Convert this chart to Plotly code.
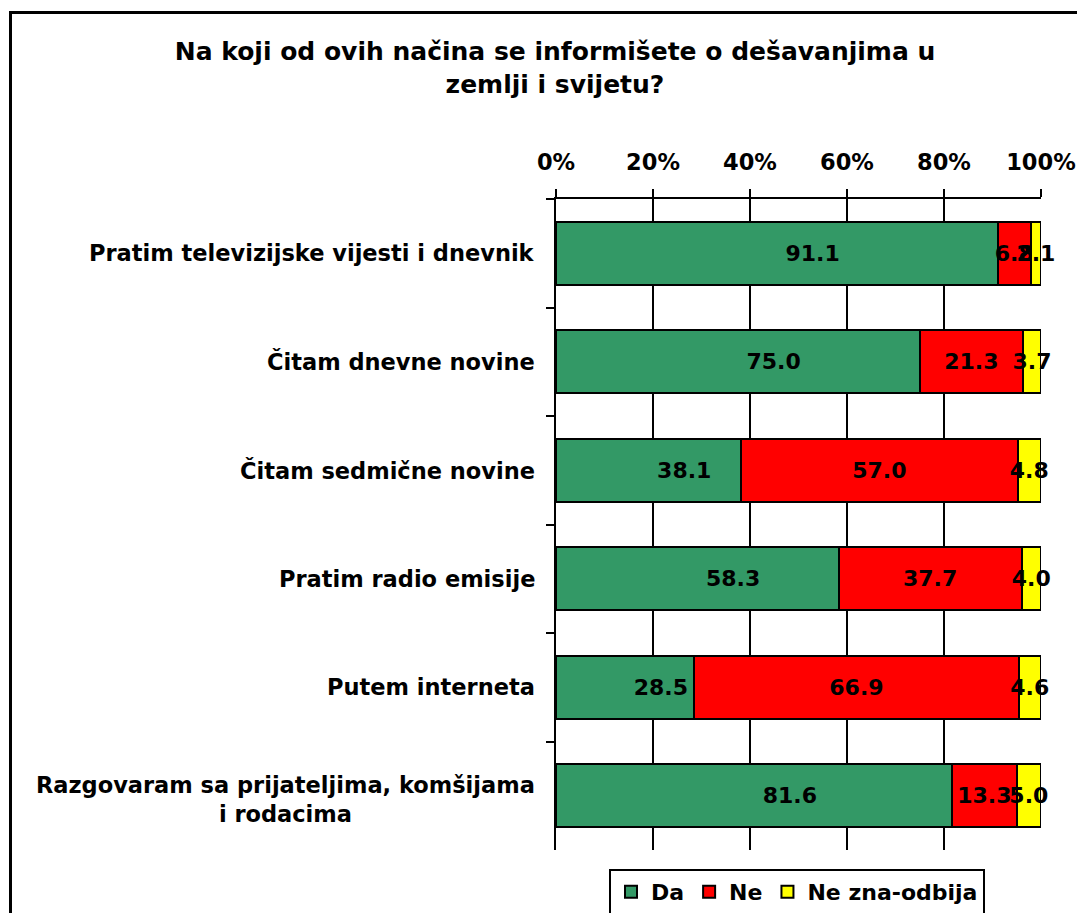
import plotly.graph_objects as go

categories = [
    "Pratim televizijske vijesti i dnevnik",
    "Čitam dnevne novine",
    "Čitam sedmične novine",
    "Pratim radio emisije",
    "Putem interneta",
    "Razgovaram sa prijateljima, komšijama<br>i rodacima",
]
da = [91.1, 75.0, 38.1, 58.3, 28.5, 81.6]
ne = [6.8, 21.3, 57.0, 37.7, 66.9, 13.3]
ne_zna = [2.1, 3.7, 4.8, 4.0, 4.6, 5.0]
series_names = ["Da", "Ne", "Ne zna-odbija"]
x_ticks = [0, 20, 40, 60, 80, 100]
x_ticktext = ["0%", "20%", "40%", "60%", "80%", "100%"]
title_text = "Na koji od ovih načina se informišete o dešavanjima u<br>zemlji i svijetu?"

FONT = "DejaVu Sans"
OFF = 8  # page body margin
W, H = 1085 - OFF, 913 - OFF
PL, PR, PT, PB = 556 - OFF, 1041 - OFF, 199 - OFF, 850 - OFF
L, R, T, B = PL, W - PR, PT, H - PB
pw = PR - PL
ph = PB - PT

fig = go.Figure()
colors = ["#339966", "#FF0000", "#FFFF00"]
pad = "\u2003\u2003\u2003\u2005"
for name, vals, col, prefix in zip(series_names, [da, ne, ne_zna], colors, [pad, "", ""]):
    fig.add_trace(go.Bar(
        y=categories, x=vals, name=name, orientation="h",
        marker=dict(color=col, line=dict(color="black", width=2)),
        text=[prefix + f"{v:.1f}" for v in vals],
        textposition="inside", insidetextanchor="middle",
        constraintext="none", textangle=0, cliponaxis=False,
        textfont=dict(family=FONT, size=22, color="black", weight="bold"),
    ))

for c in categories:
    fig.add_annotation(
        x=0, xref="paper", y=c, yref="y", xshift=-19,
        yshift=-4 if "<br>" in c else 0,
        xanchor="right", yanchor="middle", align="center",
        text=c, showarrow=False,
        font=dict(family=FONT, size=22.5, color="black", weight="bold"),
    )

fig.add_shape(
    type="rect", xref="paper", yref="paper",
    x0=(10.5 - OFF - L) / pw, x1=(W + 20 - L) / pw,
    y0=-(B + 20) / ph, y1=1 + (T - (12.5 - OFF)) / ph,
    line=dict(color="black", width=3), fillcolor="rgba(0,0,0,0)", layer="below",
)

fig.update_layout(
    width=W, height=H,
    margin=dict(l=L, r=R, t=T, b=B, autoexpand=False),
    paper_bgcolor="white", plot_bgcolor="white",
    barmode="stack", barnorm="percent", bargap=0.42,
    font=dict(family=FONT, size=22, color="black", weight="bold"),
    title=dict(
        text=title_text, x=(555 - OFF) / W, xanchor="center", xref="container",
        y=1 - 52 / H, yanchor="top", yref="container",
        font=dict(family=FONT, size=25, color="black", weight="bold"),
    ),
    xaxis=dict(
        side="top", range=[0, 100.01], tickvals=x_ticks, ticktext=x_ticktext,
        showgrid=True, gridcolor="black", gridwidth=2,
        showline=True, linecolor="black", linewidth=2,
        ticks="outside", ticklen=8, tickwidth=2, tickcolor="black",
        ticklabelstandoff=10,
        zeroline=False, fixedrange=True,
        tickfont=dict(family=FONT, size=22.5, color="black", weight="bold"),
    ),
    yaxis=dict(
        autorange="reversed", showticklabels=False, showgrid=False,
        showline=True, linecolor="black", linewidth=2,
        ticks="outside", ticklen=8, tickwidth=2, tickcolor="black",
        tickson="boundaries", zeroline=False, fixedrange=True,
    ),
    legend=dict(
        orientation="h", x=(797 - OFF - L) / pw, xanchor="center",
        y=-(869 - 850) / ph, yanchor="top",
        bordercolor="black", borderwidth=2, bgcolor="white",
        font=dict(family=FONT, size=22, color="black", weight="bold"),
        itemwidth=30, traceorder="normal",
    ),
    showlegend=True,
)

fig.write_html("out.html")
